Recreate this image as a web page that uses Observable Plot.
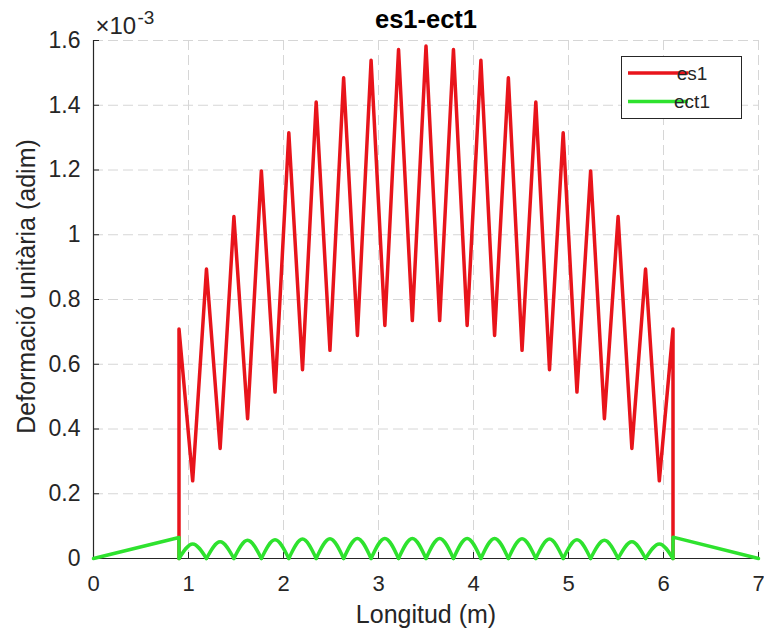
<!DOCTYPE html>
<html>
<head>
<meta charset="utf-8">
<script src="https://cdn.jsdelivr.net/npm/d3@7"></script>
<script src="https://cdn.jsdelivr.net/npm/@observablehq/plot@0.6"></script>
<style>
  html, body { margin: 0; padding: 0; background: #fff; }
  #chart { width: 764px; height: 640px; }
</style>
</head>
<body>
<div id="chart"></div>
<script>
// ---- Texts and ticks ----
const titleText = "es1-ect1";
const xLabel = "Longitud (m)";
const yLabel = "Deformació unitària (adim)";
const yExponentBase = "×10";
const yExponent = "-3";
const xTicks = [0, 1, 2, 3, 4, 5, 6, 7];
const yTicks = [0, 0.2, 0.4, 0.6, 0.8, 1, 1.2, 1.4, 1.6];
const seriesNames = ["es1", "ect1"];

// ---- es1 (strain, ×10^-3) ----
// peaks of the scalloped curve (also the zero points of ect1)
const peakX = [0.9, 1.189, 1.478, 1.767, 2.056, 2.344, 2.633, 2.922, 3.211, 3.5,
               3.789, 4.078, 4.367, 4.656, 4.944, 5.233, 5.522, 5.811, 6.1];
const es1Peaks = [0.709, 0.894, 1.056, 1.197, 1.315, 1.410, 1.485, 1.539, 1.572, 1.583,
                  1.572, 1.539, 1.485, 1.410, 1.315, 1.197, 1.056, 0.894, 0.709];
// troughs between peaks (also the crest points of ect1)
const valleyX = [1.044, 1.333, 1.622, 1.911, 2.2, 2.489, 2.778, 3.067, 3.356,
                 3.644, 3.933, 4.222, 4.511, 4.8, 5.089, 5.378, 5.667, 5.956];
const es1Valleys = [0.240, 0.340, 0.432, 0.514, 0.583, 0.643, 0.689, 0.720, 0.735,
                    0.735, 0.720, 0.689, 0.643, 0.583, 0.514, 0.432, 0.340, 0.240];
const es1StartY = 0;
const es1EndY = 0;

// ---- ect1 (strain, ×10^-3) ----
const ect1Crests = [0.045, 0.052, 0.056, 0.058, 0.060, 0.061, 0.062, 0.062, 0.062,
                    0.062, 0.062, 0.062, 0.061, 0.060, 0.058, 0.056, 0.052, 0.045];
const ect1LeftX = [0, 0.9, 0.9];
const ect1LeftY = [0, 0.065, 0];
const ect1RightX = [6.1, 6.1, 7];
const ect1RightY = [0, 0.066, 0];

// ---- Style ----
const FONT = "'Liberation Sans', Arial, Helvetica, sans-serif";
const RED = "#e8141b";
const GREEN = "#2ee22e";
const INK = "#262626";
const GRID = "#d6d6d6";
const W = 764, H = 640;
const mL = 93, mR = 6, mT = 40, mB = 82;
const innerW = W - mL - mR, innerH = H - mT - mB;

// ---- Build tables ----
const es1 = [{x: peakX[0], y: es1StartY}];
peakX.forEach((px, i) => {
  es1.push({x: px, y: es1Peaks[i]});
  if (i < valleyX.length) es1.push({x: valleyX[i], y: es1Valleys[i]});
});
es1.push({x: peakX[peakX.length - 1], y: es1EndY});

const ramps = [
  ...ect1LeftX.map((x, i) => ({x, y: ect1LeftY[i], seg: "left"})),
  ...ect1RightX.map((x, i) => ({x, y: ect1RightY[i], seg: "right"}))
];
const arches = [];
valleyX.forEach((vx, i) => {
  arches.push({x: peakX[i], y: 0, arch: i});
  arches.push({x: vx, y: ect1Crests[i], arch: i});
  arches.push({x: peakX[i + 1], y: 0, arch: i});
});

const plot = Plot.plot({
  width: W,
  height: H,
  marginLeft: mL,
  marginRight: mR,
  marginTop: mT,
  marginBottom: mB,
  style: {fontFamily: FONT, background: "#fff", color: INK, overflow: "visible"},
  x: {domain: [0, 7]},
  y: {domain: [0, 1.6]},
  marks: [
    Plot.gridX(xTicks, {stroke: GRID, strokeOpacity: 1, strokeDasharray: "10,5"}),
    Plot.gridY(yTicks, {stroke: GRID, strokeOpacity: 1, strokeDasharray: "10,5"}),
    Plot.ruleX([0], {stroke: INK, strokeWidth: 1.2}),
    Plot.ruleY([0], {stroke: INK, strokeWidth: 1.2}),
    Plot.tickX(xTicks, {x: d => d, stroke: INK, insetTop: innerH - 6}),
    Plot.tickY(yTicks, {y: d => d, stroke: INK, insetRight: innerW - 6}),
    Plot.axisX(xTicks, {tickSize: 0, tickPadding: 17, fontSize: 22, fill: INK, label: null,
                        tickFormat: d3.format("~g")}),
    Plot.axisY(yTicks, {tickSize: 0, tickPadding: 13, fontSize: 23, fill: INK, label: null,
                        tickFormat: d3.format("~g")}),
    Plot.line(es1, {x: "x", y: "y", stroke: RED, strokeWidth: 3.5}),
    Plot.line(ramps, {x: "x", y: "y", z: "seg", stroke: GREEN, strokeWidth: 3.5}),
    Plot.line(arches, {x: "x", y: "y", z: "arch", curve: "natural", stroke: GREEN, strokeWidth: 3.5}),
    Plot.text([titleText], {text: d => d, frameAnchor: "top", dy: -31, fontSize: 25.5,
                            fontWeight: "bold", fill: "#000"}),
    Plot.text([xLabel], {text: d => d, frameAnchor: "bottom", dy: 64, fontSize: 25, fill: INK}),
    Plot.text([yLabel], {text: d => d, frameAnchor: "left", textAnchor: "middle",
                         dx: -67, dy: -13, rotate: -90, fontSize: 25, fill: INK}),
    Plot.text([yExponentBase], {text: d => d, frameAnchor: "top-left", textAnchor: "start",
                                dx: 2, dy: -24, fontSize: 24, fill: INK}),
    Plot.text([yExponent], {text: d => d, frameAnchor: "top-left", textAnchor: "start",
                            dx: 44, dy: -30, fontSize: 19, fill: INK})
  ]
});

// ---- Legend box in the upper right of the axes ----
const legendColors = [RED, GREEN];
const lg = d3.select(plot).append("g").attr("font-family", FONT).attr("font-size", 19);
lg.append("rect")
  .attr("x", 621.5).attr("y", 56.5).attr("width", 120).attr("height", 62)
  .attr("fill", "#fff").attr("stroke", INK).attr("stroke-width", 1);
seriesNames.forEach((name, i) => {
  const cy = 73 + i * 28.5;
  lg.append("line")
    .attr("x1", 628).attr("x2", 688).attr("y1", cy).attr("y2", cy)
    .attr("stroke", legendColors[i]).attr("stroke-width", 3.5);
  lg.append("text")
    .attr("x", 692).attr("y", cy).attr("dy", "0.35em")
    .attr("fill", INK).text(name);
});

document.getElementById("chart").appendChild(plot);
</script>
</body>
</html>
